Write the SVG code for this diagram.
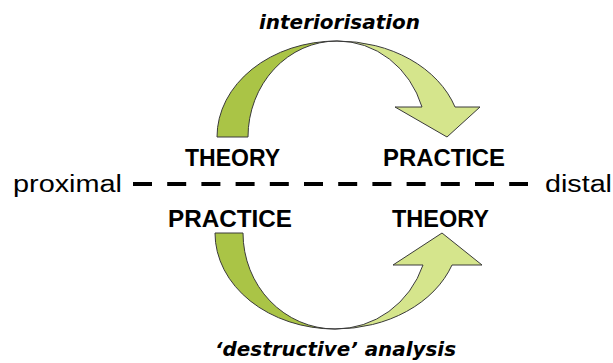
<svg xmlns="http://www.w3.org/2000/svg" width="613" height="363" viewBox="0 0 613 363">
  <style>
    .lbl { font-family: "Liberation Sans", Arial, sans-serif; font-weight: bold; font-size: 23px; fill: #000; }
    .end { font-family: "Liberation Sans", Arial, sans-serif; font-size: 23px; fill: #000; }
    .cap { font-family: "DejaVu Sans", Verdana, sans-serif; font-weight: bold; font-style: italic; font-size: 19px; fill: #000; }
    .dark { fill: #aac446; stroke: #3a3a3a; stroke-width: 1; }
    .light { fill: #d5e58c; stroke: #3a3a3a; stroke-width: 1; }
  </style>
  <rect width="613" height="363" fill="#ffffff"/>
  <g id="connectors">
    <g id="top-arrow">
      <path class="dark" d="M217,137 A120,96 0 0 1 337,41 A89,96 0 0 0 248,137 Z"/>
      <path class="light" d="M337,41 A124,96 0 0 1 455,107 L480,107 L447,137 L395,107 L422,107 A89,96 0 0 0 337,41 Z"/>
    </g>
    <g id="bottom-arrow">
      <path class="dark" d="M215,233 A120,96 0 0 0 335,329 A92,96 0 0 1 243,233 Z"/>
      <path class="light" d="M335,329 A124,96 0 0 0 452,265 L482,265 L442,233 L393,265 L423,265 A93,96 0 0 1 335,329 Z"/>
    </g>
    <line id="axis" x1="133" y1="184" x2="528" y2="184" stroke="#000" stroke-width="4" stroke-dasharray="19 15.2"/>
  </g>
  <g id="interiorisation"><text class="cap" x="259" y="29" textLength="161" lengthAdjust="spacingAndGlyphs">interiorisation</text></g>
  <g id="destructive-analysis"><text class="cap" x="215" y="356" textLength="241" lengthAdjust="spacingAndGlyphs">‘destructive’ analysis</text></g>
  <g id="proximal"><text class="end" x="13" y="192" textLength="109" lengthAdjust="spacingAndGlyphs">proximal</text></g>
  <g id="distal"><text class="end" x="545" y="192" textLength="67" lengthAdjust="spacingAndGlyphs">distal</text></g>
  <g id="theory-top"><text class="lbl" x="185" y="166" textLength="95" lengthAdjust="spacingAndGlyphs">THEORY</text></g>
  <g id="practice-top"><text class="lbl" x="383" y="166" textLength="122" lengthAdjust="spacingAndGlyphs">PRACTICE</text></g>
  <g id="practice-bottom"><text class="lbl" x="168" y="227" textLength="124" lengthAdjust="spacingAndGlyphs">PRACTICE</text></g>
  <g id="theory-bottom"><text class="lbl" x="392" y="227" textLength="97" lengthAdjust="spacingAndGlyphs">THEORY</text></g>
</svg>
